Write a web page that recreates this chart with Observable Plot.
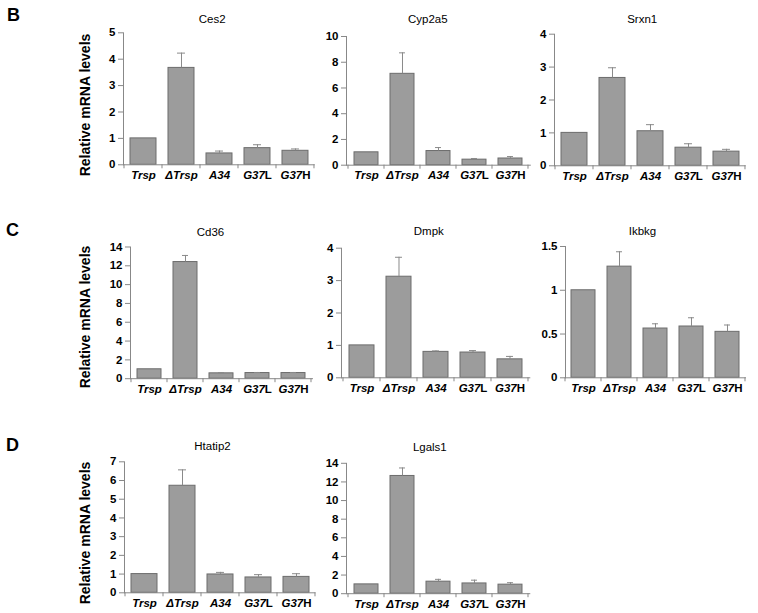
<!DOCTYPE html>
<html><head><meta charset="utf-8">
<script src="https://cdn.jsdelivr.net/npm/d3@7"></script>
<script src="https://cdn.jsdelivr.net/npm/@observablehq/plot@0.6"></script>
<style>
body{margin:0;background:#fff;}
#fig{position:relative;width:758px;height:613px;font-family:"Liberation Sans",Arial,sans-serif;color:#000;overflow:hidden;}
.panel{position:absolute;}
.letter{position:absolute;font-weight:bold;font-size:18px;line-height:1;}
.ylab{position:absolute;font-weight:bold;font-size:14px;line-height:1;transform:translate(-50%,-50%) rotate(-90deg);white-space:nowrap;}
</style></head><body><div id="fig"></div>
<script>
// ---- data ----
const groups = ["Trsp", "\u0394Trsp", "A34", "G37L", "G37H"];

const ces2 = [1, 3.67, 0.43, 0.63, 0.53];
const ces2Err = [0, 0.56, 0.09, 0.13, 0.07];
const ces2Ticks = [0, 1, 2, 3, 4, 5];

const cyp2a5 = [1, 7.1, 1.1, 0.43, 0.52];
const cyp2a5Err = [0, 1.63, 0.27, 0.09, 0.15];
const cyp2a5Ticks = [0, 2, 4, 6, 8, 10];

const srxn1 = [1, 2.67, 1.05, 0.55, 0.43];
const srxn1Err = [0, 0.31, 0.2, 0.12, 0.07];
const srxn1Ticks = [0, 1, 2, 3, 4];

const cd36 = [1, 12.4, 0.57, 0.6, 0.6];
const cd36Err = [0, 0.7, 0.07, 0.06, 0.06];
const cd36Ticks = [0, 2, 4, 6, 8, 10, 12, 14];

const dmpk = [1, 3.12, 0.8, 0.78, 0.57];
const dmpkErr = [0, 0.6, 0.03, 0.06, 0.09];
const dmpkTicks = [0, 1, 2, 3, 4];

const ikbkg = [1, 1.27, 0.563, 0.586, 0.525];
const ikbkgErr = [0, 0.17, 0.054, 0.1, 0.078];
const ikbkgTicks = [0, 0.5, 1, 1.5];

const htatip2 = [1, 5.72, 0.98, 0.82, 0.85];
const htatip2Err = [0, 0.85, 0.11, 0.15, 0.17];
const htatip2Ticks = [0, 1, 2, 3, 4, 5, 6, 7];

const lgals1 = [1, 12.64, 1.29, 1.1, 0.97];
const lgals1Err = [0, 0.86, 0.25, 0.35, 0.21];
const lgals1Ticks = [0, 2, 4, 6, 8, 10, 12, 14];

const yLabel = "Relative mRNA levels";

// ---- layout (pixel positions) ----
const layout = [
  {title:"Ces2",    vals:ces2,    errs:ces2Err,    ticks:ces2Ticks,    axisX:123.3, axisEnd:315,   yTop:32.3,  yBottom:164.3, titleX:212, titleY:19},
  {title:"Cyp2a5",  vals:cyp2a5,  errs:cyp2a5Err,  ticks:cyp2a5Ticks,  axisX:345.7, axisEnd:530.5, yTop:36,    yBottom:164.7, titleX:427, titleY:19},
  {title:"Srxn1",   vals:srxn1,   errs:srxn1Err,   ticks:srxn1Ticks,   axisX:554.3, axisEnd:746,   yTop:33.7,  yBottom:165.3, titleX:642, titleY:19},
  {title:"Cd36",    vals:cd36,    errs:cd36Err,    ticks:cd36Ticks,    axisX:130,   axisEnd:313,   yTop:246,   yBottom:377.7, titleX:210, titleY:231.5},
  {title:"Dmpk",    vals:dmpk,    errs:dmpkErr,    ticks:dmpkTicks,    axisX:340.7, axisEnd:530,   yTop:247.7, yBottom:377.3, titleX:428, titleY:231},
  {title:"Ikbkg",   vals:ikbkg,   errs:ikbkgErr,   ticks:ikbkgTicks,   axisX:565,   axisEnd:746,   yTop:246,   yBottom:377.3, titleX:642, titleY:231},
  {title:"Htatip2", vals:htatip2, errs:htatip2Err, ticks:htatip2Ticks, axisX:124,   axisEnd:315.5, yTop:461.3, yBottom:592.3, titleX:212, titleY:446},
  {title:"Lgals1",  vals:lgals1,  errs:lgals1Err,  ticks:lgals1Ticks,  axisX:345.7, axisEnd:530,   yTop:462.3, yBottom:592.7, titleX:429, titleY:446.5}
];
const letters = [{t:"B", x:7, y:6}, {t:"C", x:6, y:221}, {t:"D", x:6, y:436}];
const ylabs = [{x:85, y:105}, {x:85, y:317}, {x:85, y:533}];

const fig = document.getElementById("fig");
const FONT = '"Liberation Sans", Arial, sans-serif';
const PI = 0.32;

function panel(cfg) {
  const L = cfg.axisX - 38, T = cfg.titleY - 15;
  const W = cfg.axisEnd + 10 - L, H = cfg.yBottom + 22 - T;
  const data = groups.map((g, i) => ({g, v: cfg.vals[i], e: cfg.errs[i]}));
  const withErr = data.filter(d => d.e > 0);
  const plot = Plot.plot({
    width: W, height: H,
    marginLeft: cfg.axisX - L, marginRight: L + W - cfg.axisEnd,
    marginTop: cfg.yTop - T, marginBottom: T + H - cfg.yBottom,
    style: {fontFamily: FONT, background: "transparent", color: "#000", overflow: "visible"},
    x: {domain: groups, paddingInner: PI, paddingOuter: PI / 2},
    y: {domain: [0, cfg.ticks[cfg.ticks.length - 1]]},
    marks: [
      Plot.barY(data, {x: "g", y: "v", fill: "#9c9c9c", stroke: "#6c6c6c", strokeWidth: 1}),
      Plot.ruleX(withErr, {x: "g", y1: d => d.v, y2: d => d.v + d.e, stroke: "#8a8a8a"}),
      Plot.tickY(withErr, {x: "g", y: d => d.v + d.e, stroke: "#8a8a8a", insetLeft: 9, insetRight: 9}),
      Plot.ruleY([0], {stroke: "#888"}),
      Plot.frame({anchor: "left", stroke: "#888"}),
      Plot.axisY({ticks: cfg.ticks, tickSize: 5, tickPadding: 3, tickFormat: d => String(d),
        fontSize: 11.5, fontWeight: "bold", stroke: "#888", fill: "#000", label: null}),
      Plot.axisX({tickSize: 0, tickPadding: 6, fontSize: 11.5, fontWeight: "bold", fontStyle: "italic",
        fill: "#000", label: null}),
      Plot.text([cfg.title], {frameAnchor: "top", text: d => d, dy: cfg.titleY - cfg.yTop,
        dx: cfg.titleX - (cfg.axisX + cfg.axisEnd) / 2, fontSize: 11.5, lineAnchor: "middle", fill: "#000"})
    ]
  });
  // boundary ticks on the category axis, from the library's band scale
  const sx = plot.scale("x");
  const bw = sx.bandwidth;
  const step = sx.step != null ? sx.step : bw / (1 - PI);
  const y0 = plot.scale("y").apply(0);
  const bounds = groups.map(g => sx.apply(g) - (step - bw) / 2);
  bounds.push(sx.apply(groups[groups.length - 1]) + bw + (step - bw) / 2);
  d3.select(plot).append("g").attr("stroke", "#888")
    .selectAll("line").data(bounds).join("line")
    .attr("x1", d => d).attr("x2", d => d).attr("y1", y0).attr("y2", y0 + 4);
  // G37L / G37H: italic "G37", upright suffix
  d3.select(plot).selectAll('g[aria-label="x-axis tick label"] text').each(function () {
    const m = this.textContent.match(/^(G37)([LH])$/);
    if (m) {
      this.textContent = "";
      d3.select(this).append("tspan").text(m[1]);
      d3.select(this).append("tspan").attr("font-style", "normal").text(m[2]);
    }
  });
  const div = document.createElement("div");
  div.className = "panel";
  div.style.left = L + "px";
  div.style.top = T + "px";
  div.appendChild(plot);
  fig.appendChild(div);
}

layout.forEach(panel);

letters.forEach(l => {
  const d = document.createElement("div");
  d.className = "letter";
  d.style.left = l.x + "px"; d.style.top = l.y + "px";
  d.textContent = l.t;
  fig.appendChild(d);
});
ylabs.forEach(p => {
  const d = document.createElement("div");
  d.className = "ylab";
  d.style.left = p.x + "px"; d.style.top = p.y + "px";
  d.textContent = yLabel;
  fig.appendChild(d);
});
</script></body></html>
